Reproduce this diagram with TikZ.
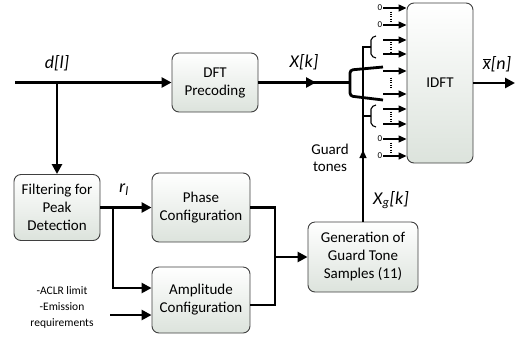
\documentclass[tikz,border=0pt]{standalone}
\usepackage{fontspec}
\setmainfont{Carlito}
\usepackage{xcolor}
\usepackage{tikz}
\usetikzlibrary{arrows.meta,calc}
\definecolor{GuardBoxLine}{HTML}{3F3F3F}
\definecolor{GuardBoxShade}{HTML}{DCE3DC}
\tikzset{
  blockbox/.style={draw=GuardBoxLine, line width=0.9pt, rounded corners=7pt, top color=white, bottom color=GuardBoxShade, align=center, inner sep=0pt, font=\fontsize{15pt}{18pt}\selectfont},
  sigline/.style={line width=2.8pt},
  sigarrow/.style={sigline, -{Triangle[length=10pt,width=10pt]}},
  toneline/.style={line width=1.1pt},
  tonearrow/.style={line width=1.3pt, -{Triangle[length=8pt,width=7pt]}},
  tonedots/.style={line width=1.1pt, dash pattern=on 1pt off 1.4pt},
  siglabel/.style={font=\fontsize{18pt}{21pt}\selectfont\itshape},
}

\begin{document}
\begin{tikzpicture}[x=1pt,y=-1pt]
        \useasboundingbox (0,0) rectangle (521,346);
        % blocks
        \node[blockbox, minimum width=86pt, minimum height=59pt] (dft) at (215,82.5) {DFT\\Precoding};
        \node[blockbox, minimum width=66pt, minimum height=160pt] (idft) at (440,83) {IDFT};
        \node[blockbox, minimum width=86pt, minimum height=66pt] (filt) at (57,207.5) {Filtering for\\Peak\\Detection};
        \node[blockbox, minimum width=98pt, minimum height=69pt] (phase) at (201,207.5) {Phase\\Configuration};
        \node[blockbox, minimum width=98pt, minimum height=66pt] (ampl) at (201,300) {Amplitude\\Configuration};
        \node[blockbox, minimum width=110pt, minimum height=70pt] (gen) at (363,257) {Generation of\\Guard Tone\\Samples (11)};
        % labels
        \node[siglabel] (dl) at (57,63) {d[l]};
        \node[siglabel] (xk) at (304,62) {X[k]};
        \node[siglabel] (xn) at (497,64) {$\overline{\mbox{\itshape x}}$[n]};
        \node[siglabel] (rl) at (124,190) {r\textsubscript{l}};
        \node[siglabel] (xg) at (391,200) {X\textsubscript{g}[k]};
        \node[font=\fontsize{15pt}{17pt}\selectfont, align=center] (gtl) at (330,158) {Guard\\tones};
        \node[font=\fontsize{11.5pt}{16pt}\selectfont, align=center] (req) at (62,307) {-ACLR limit\\-Emission\\requirements};
        % main path
        \coordinate (src) at (15,82.5);
        \coordinate (split) at (57,82.5);
        \coordinate (xkarr) at (316,82.5);
        \coordinate (spread) at (350,82.5);
        \coordinate (out) at (515,83);
        \draw[sigarrow] (src) -- (dft.west);
        \draw[sigarrow] (split) -- (filt.north);
        \draw[sigline] (dft.east) -- (spread);
        \draw[sigarrow] (dft.east) -- (xkarr);
        \draw[sigline, rounded corners=3pt] (383,67) -- (350,70) -- (350,96) -- (383,100);
        \draw[sigarrow] (idft.east) -- (out);
        % subcarrier inputs
        \foreach \y [count=\i] in {8,25,40,54,71,94,109,124,139,156} {
          \coordinate (t\i) at (383,\y);
          \draw[tonearrow] (t\i) -- (t\i -| idft.west);
        }
        \foreach \i in {1,2,9,10} {
          \node[anchor=east, inner sep=0.6pt, font=\fontsize{9pt}{10pt}\selectfont] (z\i) at (t\i) {0};
        }
        \foreach \y in {16.5,47,82.5,116.5,147.5} {
          \draw[tonedots] (391,\y-5) -- (391,\y+5);
        }
        % guard tones
        \coordinate (gtop) at (363,47);
        \coordinate (gtopb) at (371,47);
        \coordinate (glow) at (363,116);
        \coordinate (glowb) at (371,116);
        \coordinate (gtip) at (363,150);
        \draw[toneline] (gen.north) -- (gtop) -- (gtopb);
        \draw[toneline] (glow) -- (glowb);
        \draw[toneline, -{Triangle[length=8pt,width=7pt]}] (gen.north) -- (gtip);
        \draw[toneline, rounded corners=2pt] (376,36) -- (371,38) -- (371,56) -- (376,58);
        \draw[toneline, rounded corners=2pt] (376,105) -- (371,107) -- (371,125) -- (376,127);
        % peak path
        \coordinate (rsplit) at (113,207.5);
        \coordinate (rdown) at (113,288);
        \coordinate (reqin) at (110,315);
        \coordinate (merge) at (275,257);
        \coordinate (aout) at ($(ampl.east)+(0,5)$);
        \draw[sigline] (filt.east) -- (rsplit);
        \draw[sigarrow] (rsplit) -- (phase.west);
        \draw[sigarrow] (rsplit) -- (rdown) -- (rdown -| ampl.west);
        \draw[sigarrow] (reqin) -- (reqin -| ampl.west);
        \draw[sigline] (phase.east) -| (merge) |- (aout);
        \draw[sigarrow] (merge) -- (gen.west);
      \end{tikzpicture}
\end{document}
